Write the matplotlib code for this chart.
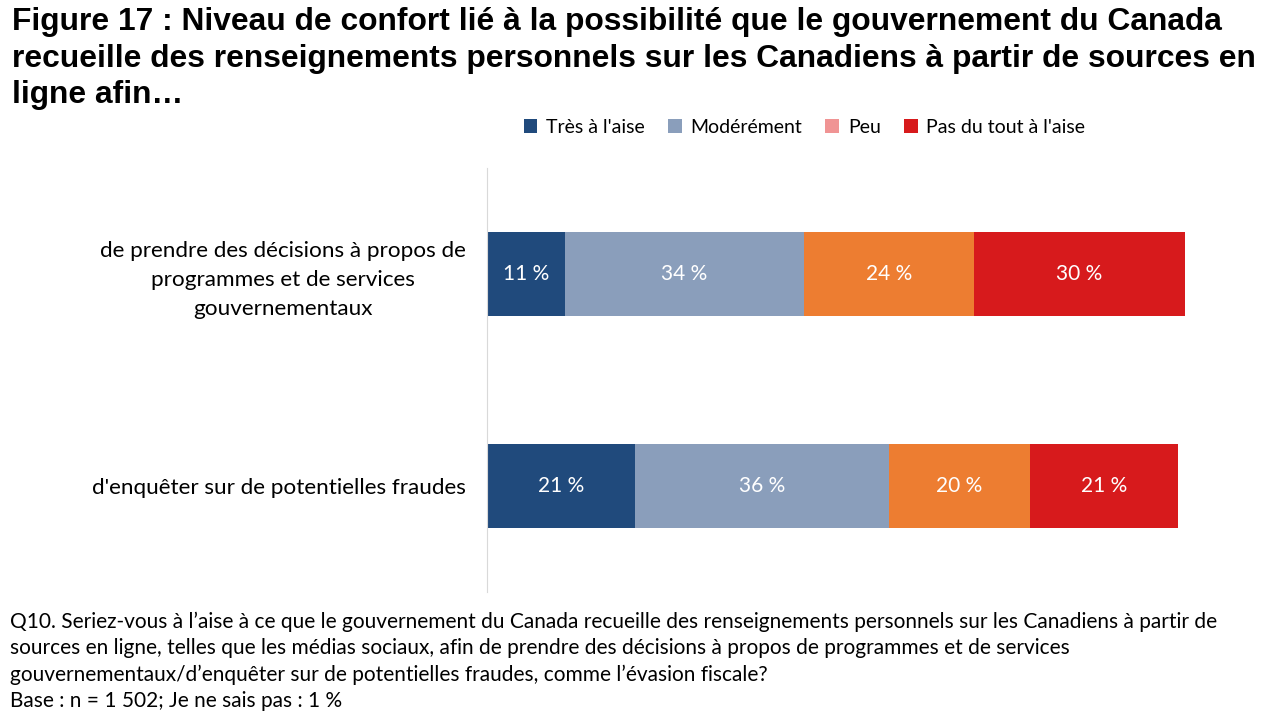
import matplotlib
matplotlib.use("Agg")
import matplotlib.pyplot as plt
from matplotlib.patches import Patch

# Données
categories = [
    "de prendre des décisions à propos de\nprogrammes et de services\ngouvernementaux",
    "d'enquêter sur de potentielles fraudes",
]
series = ["Très à l'aise", "Modérément", "Peu", "Pas du tout à l'aise"]
valeurs = {
    "Très à l'aise": [11, 21],
    "Modérément": [34, 36],
    "Peu": [24, 20],
    "Pas du tout à l'aise": [30, 21],
}
couleurs_barres = ["#204A7C", "#8A9EBB", "#ED7D31", "#D71A1C"]
couleurs_legende = ["#204A7C", "#8A9EBB", "#F09494", "#D71A1C"]

titre = ("Figure 17 : Niveau de confort lié à la possibilité que le gouvernement du Canada\n"
         "recueille des renseignements personnels sur les Canadiens à partir de sources en\n"
         "ligne afin…")
note = ("Q10. Seriez-vous à l’aise à ce que le gouvernement du Canada recueille des renseignements personnels sur les Canadiens à partir de\n"
        "sources en ligne, telles que les médias sociaux, afin de prendre des décisions à propos de programmes et de services\n"
        "gouvernementaux/d’enquêter sur de potentielles fraudes, comme l’évasion fiscale?\n"
        "Base : n = 1 502; Je ne sais pas : 1 %")

police = ["Lato", "DejaVu Sans"]

fig = plt.figure(figsize=(12.8, 7.2), dpi=100)
ax = fig.add_axes([0.3805, 0.1778, 0.5508, 0.5889])

y = list(range(len(categories)))
gauche = [0] * len(categories)
for s, c in zip(series, couleurs_barres):
    vals = valeurs[s]
    barres = ax.barh(y, vals, left=gauche, height=0.4, color=c)
    for b, v in zip(barres, vals):
        ax.text(b.get_x() + b.get_width() / 2, b.get_y() + b.get_height() / 2,
                f"{v} %", ha="center", va="center", color="white",
                fontsize=15, family=police)
    gauche = [g + v for g, v in zip(gauche, vals)]

ax.set_xlim(0, 100)
ax.set_ylim(1.5, -0.5)
ax.set_xticks([])
ax.set_yticks(y)
ax.set_yticklabels(categories, family=police, fontsize=16.2, multialignment="center",
                   linespacing=1.56)
ax.tick_params(axis="y", length=0, pad=15)
for cote in ["top", "right", "bottom"]:
    ax.spines[cote].set_visible(False)
ax.spines["left"].set_color("#D9D9D9")

fig.text(0.009, 0.99, titre, ha="left", va="top", fontsize=22.9, fontweight="bold",
         family=["Liberation Sans", "DejaVu Sans"], linespacing=1.28)

poignees = [Patch(facecolor=c, label=s) for s, c in zip(series, couleurs_legende)]
fig.legend(handles=poignees, loc="center", bbox_to_anchor=(0.6285, 0.8236), ncol=4,
           frameon=False, prop={"family": police, "size": 14},
           handlelength=0.7, handleheight=0.7, handletextpad=0.45, columnspacing=1.2)

fig.text(0.008, 0.151, note, ha="left", va="top", fontsize=15.05, family=police,
         linespacing=1.39)

fig.savefig("out.png", dpi=100)
